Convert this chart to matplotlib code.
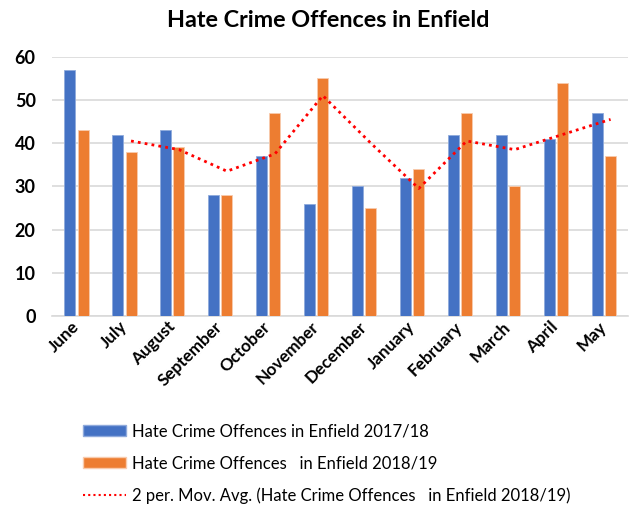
import numpy as np
import matplotlib
matplotlib.use("Agg")
import matplotlib.pyplot as plt
from matplotlib.patches import Patch
from matplotlib.lines import Line2D

# Data
months = ["June", "July", "August", "September", "October", "November",
          "December", "January", "February", "March", "April", "May"]
offences_2017 = [57, 42, 43, 28, 37, 26, 30, 32, 42, 42, 41, 47]
offences_2018 = [43, 38, 39, 28, 47, 55, 25, 34, 47, 30, 54, 37]
# 2 period moving average of 2018/19 (starts at July)
mov_avg = [40.5, 38.5, 33.5, 37.5, 51, 40, 29.5, 40.5, 38.5, 42, 45.5]

blue = "#4472C4"
orange = "#ED7D31"

plt.rcParams["font.family"] = ["Lato", "DejaVu Sans"]

fig = plt.figure(figsize=(6.31, 5.07), dpi=100)
ax = fig.add_axes([0.083, 0.377, 0.912, 0.511])

x = np.arange(len(months))
w = 0.23
off = 0.14
ax.bar(x - off, offences_2017, width=w, color=blue, edgecolor="#8FAADC", linewidth=0.6, zorder=3)
ax.bar(x + off, offences_2018, width=w, color=orange, edgecolor="#F8CBAD", linewidth=0.6, zorder=3)
ax.plot(x[1:] + off, mov_avg, color="red", linestyle=(0, (1, 1.5)), linewidth=2, zorder=4)

ax.set_xlim(-0.5, len(months) - 0.5)
ax.set_ylim(0, 60)
ax.set_yticks(range(0, 61, 10))
ax.yaxis.grid(True, color="#D9D9D9", linewidth=1.2, zorder=0)
ax.set_axisbelow(True)
for s in ["top", "right", "left"]:
    ax.spines[s].set_visible(False)
ax.spines["bottom"].set_color("#D9D9D9")
ax.spines["bottom"].set_linewidth(1.2)
ax.tick_params(axis="both", length=0)
ax.tick_params(axis="y", labelsize=13, pad=12)

ax.set_xticks(x)
ax.set_xticklabels(months, rotation=45, ha="right", va="center",
                   rotation_mode="anchor", fontsize=12.3, fontweight="bold")
for lbl in ax.get_yticklabels():
    lbl.set_fontweight("bold")
ax.tick_params(axis="x", pad=6)

fig.text(0.52, 0.96, "Hate Crime Offences in Enfield", ha="center", va="center",
         fontsize=16.8, fontweight="bold")

handles = [
    Patch(facecolor=blue, edgecolor="#8FAADC"),
    Patch(facecolor=orange, edgecolor="#F8CBAD"),
    Line2D([0], [0], color="red", linestyle=(0, (1, 1.5)), linewidth=1.5),
]
labels = [
    "Hate Crime Offences in Enfield 2017/18",
    "Hate Crime Offences   in Enfield 2018/19",
    "2 per. Mov. Avg. (Hate Crime Offences   in Enfield 2018/19)",
]
fig.legend(handles, labels, loc="upper left", bbox_to_anchor=(0.121, 0.178),
           frameon=False, fontsize=12, handlelength=2.6, handleheight=0.62,
           handletextpad=0.31, labelspacing=0.95, borderaxespad=0)

fig.savefig("out.png", dpi=100)
